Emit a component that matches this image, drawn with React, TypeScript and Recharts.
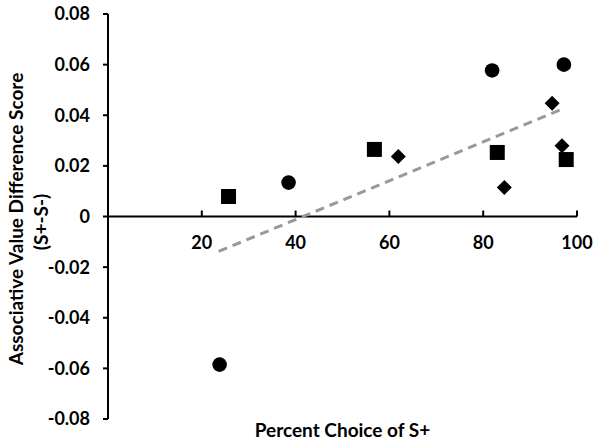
import { ScatterChart, Scatter, XAxis, YAxis, ReferenceLine } from 'recharts';

// percent choice of S+ (x) vs associative value difference score (y)
const circleX = [23.8, 38.5, 81.9, 97.2];
const circleY = [-0.0585, 0.0134, 0.0577, 0.06];
const squareX = [25.7, 56.8, 83, 97.7];
const squareY = [0.0079, 0.0265, 0.0253, 0.0225];
const diamondX = [61.9, 84.5, 94.7, 96.8];
const diamondY = [0.0237, 0.0115, 0.0447, 0.028];
const trendX = [23.6, 97.2];
const trendY = [-0.0138, 0.0427];

const xTicks = [20, 40, 60, 80, 100];
const yTicks = [-0.08, -0.06, -0.04, -0.02, 0, 0.02, 0.04, 0.06, 0.08];

const zip = (xs: number[], ys: number[]) => xs.map((x, i) => ({ x, y: ys[i] }));

const W = 602;
const H = 444;
const TOP = 14;
const BOTTOM = 25;
const LEFT = 108;
const RIGHT = 25;
const PLOT_H = H - TOP - BOTTOM;
const Y_MIN = -0.08;
const Y_MAX = 0.08;
const ZERO_Y = TOP + ((Y_MAX - 0) / (Y_MAX - Y_MIN)) * PLOT_H;

const FONT = 'Lato, "Open Sans", sans-serif';

const Circle = (p: any) => <circle cx={p.cx} cy={p.cy} r={7.3} fill="#000" />;
const Square = (p: any) => <rect x={p.cx - 7.5} y={p.cy - 7.5} width={15} height={15} fill="#000" />;
const Diamond = (p: any) => (
  <path d={`M${p.cx},${p.cy - 7.5}L${p.cx + 7.5},${p.cy}L${p.cx},${p.cy + 7.5}L${p.cx - 7.5},${p.cy}Z`} fill="#000" />
);

const XTick = (p: any) => (
  <g>
    <line x1={p.x} x2={p.x} y1={ZERO_Y} y2={ZERO_Y - 6} stroke="#000" strokeWidth={2} />
    <text x={p.x} y={ZERO_Y + 32} textAnchor="middle" fontSize={18} fontWeight="bold" fontFamily={FONT} fill="#000">
      {p.payload.value}
    </text>
  </g>
);

const XLabel = () => (
  <text x={(LEFT + W - RIGHT) / 2} y={437} textAnchor="middle" fontSize={19} fontWeight="bold" fontFamily={FONT} fill="#000">
    Percent Choice of S+
  </text>
);

const YLabel = () => (
  <g transform="rotate(-90)">
    <text x={-219} y={23} textAnchor="middle" fontSize={19} fontWeight="bold" fontFamily={FONT} fill="#000">
      Associative Value Difference Score
    </text>
    <text x={-222} y={48} textAnchor="middle" fontSize={19} fontWeight="bold" fontFamily={FONT} fill="#000">
      (S+-S-)
    </text>
  </g>
);

export default function App() {
  return (
    <div style={{ position: 'absolute', left: 0, top: 0, background: '#fff' }}>
      <ScatterChart width={W} height={H} margin={{ top: TOP, right: RIGHT, bottom: 0, left: 0 }}>
        <XAxis
          type="number"
          dataKey="x"
          domain={[0, 100]}
          ticks={xTicks}
          axisLine={false}
          tickLine={false}
          tick={<XTick />}
          height={BOTTOM}
          label={<XLabel />}
        />
        <YAxis
          type="number"
          dataKey="y"
          domain={[Y_MIN, Y_MAX]}
          ticks={yTicks}
          width={LEFT}
          axisLine={{ stroke: '#000', strokeWidth: 2 }}
          tickLine={{ stroke: '#000', strokeWidth: 2 }}
          tickSize={5}
          tickMargin={13}
          tick={{ fontSize: 18, fontWeight: 'bold', fontFamily: FONT, fill: '#000' }}
          tickFormatter={(v: number) => (v === 0 ? '0' : v.toFixed(2))}
          label={<YLabel />}
        />
        <ReferenceLine y={0} stroke="#000" strokeWidth={2} />
        <Scatter
          data={zip(trendX, trendY)}
          line={{ stroke: '#999', strokeWidth: 3, strokeDasharray: '9 6' }}
          shape={() => null}
          isAnimationActive={false}
        />
        <Scatter data={zip(circleX, circleY)} shape={Circle} isAnimationActive={false} />
        <Scatter data={zip(squareX, squareY)} shape={Square} isAnimationActive={false} />
        <Scatter data={zip(diamondX, diamondY)} shape={Diamond} isAnimationActive={false} />
      </ScatterChart>
    </div>
  );
}
